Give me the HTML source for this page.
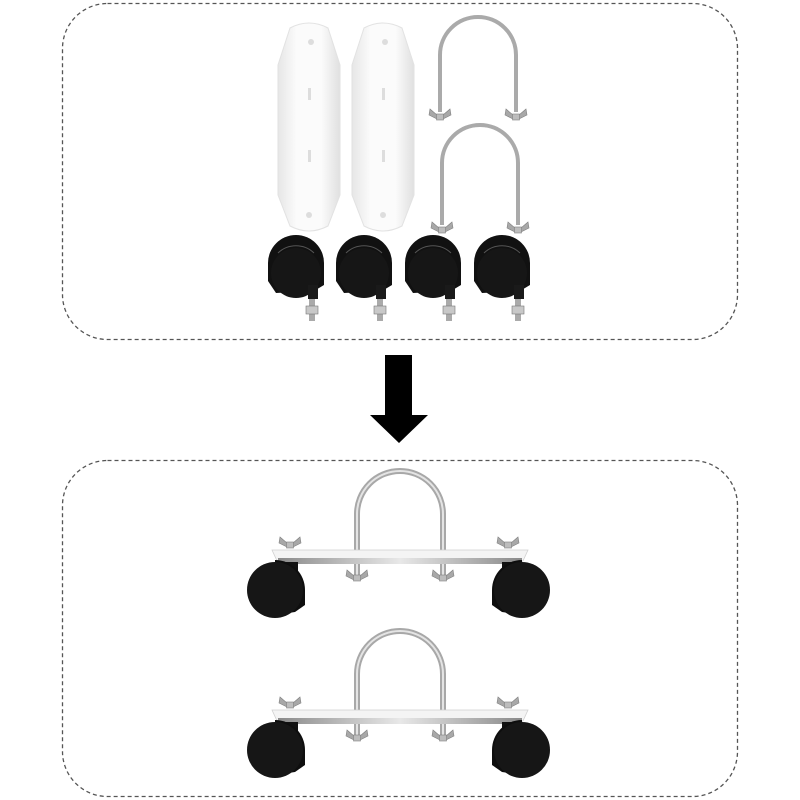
<!DOCTYPE html>
<html><head><meta charset="utf-8"><style>html,body{margin:0;padding:0;background:#fff}svg{display:block}</style></head>
<body>
<svg width="800" height="800" viewBox="0 0 800 800" xmlns="http://www.w3.org/2000/svg">
<defs>
<linearGradient id="met" x1="0" x2="1"><stop offset="0" stop-color="#8a8a8a"/><stop offset=".5" stop-color="#e8e8e8"/><stop offset="1" stop-color="#8a8a8a"/></linearGradient>
<linearGradient id="plate" x1="0" x2="1"><stop offset="0" stop-color="#e6e6e6"/><stop offset=".3" stop-color="#fbfbfb"/><stop offset=".7" stop-color="#fbfbfb"/><stop offset="1" stop-color="#e0e0e0"/></linearGradient>
<g id="wing">
<path d="M-3,-1 L-10,-7 L-11,-1 L-3,3Z M3,-1 L10,-7 L11,-1 L3,3Z" fill="#a8a8a8" stroke="#808080" stroke-width=".6"/>
<rect x="-3.5" y="-2" width="7" height="6" fill="#bdbdbd" stroke="#808080" stroke-width=".6"/>
</g>
<g id="caster">
<path d="M-28,-10 A28,28 0 0 1 28,-10 L28,12 L18,18 L-20,20 L-28,8Z" fill="#111"/>
<circle cx="0" cy="0" r="25" fill="#161616"/>
<path d="M-18,-20 A26,26 0 0 1 18,-20" stroke="#555" stroke-width="1" fill="none"/>
<rect x="12" y="12" width="10" height="14" fill="#1a1a1a"/>
<rect x="13" y="26" width="6" height="22" fill="#aaa"/>
<rect x="10" y="33" width="12" height="8" fill="#c8c8c8" stroke="#777" stroke-width=".6"/>
</g>
<g id="asm">
<path d="M357,580 L357,514 A43,43 0 0 1 443,514 L443,580" fill="none" stroke="#a8a8a8" stroke-width="6"/>
<path d="M357,580 L357,514 A43,43 0 0 1 443,514 L443,580" fill="none" stroke="#e4e4e4" stroke-width="2"/>
<use href="#wing" x="290" y="544"/><use href="#wing" x="508" y="544"/>
<path d="M272,550 L528,550 L522,563 L278,563Z" fill="#f4f4f4" stroke="#d0d0d0" stroke-width=".8"/>
<rect x="278" y="558" width="244" height="6" fill="url(#met)"/>
<use href="#wing" x="357" y="577"/><use href="#wing" x="443" y="577"/>
<rect x="286" y="562" width="12" height="18" fill="#111"/>
<rect x="502" y="562" width="12" height="18" fill="#111"/>
<path d="M275,560 A30,30 0 0 1 305,590 L305,605 L295,612 L275,615Z" fill="#0e0e0e"/>
<circle cx="275" cy="590" r="28" fill="#161616"/>
<path d="M522,560 A30,30 0 0 0 492,590 L492,605 L502,612 L522,615Z" fill="#0e0e0e"/>
<circle cx="522" cy="590" r="28" fill="#161616"/>
</g>
</defs>
<rect x="62.5" y="3.5" width="675" height="336" rx="45" fill="none" stroke="#555" stroke-width="1.3" stroke-dasharray="4,3"/>
<rect x="62.5" y="460.5" width="675" height="336" rx="45" fill="none" stroke="#555" stroke-width="1.3" stroke-dasharray="4,3"/>
<path d="M385,355 L412,355 L412,415 L428,415 L399,443 L370,415 L385,415Z" fill="#000"/>
<path d="M290,28 Q309,18 328,28 L340,65 L340,195 L328,226 Q309,236 290,226 L278,195 L278,65Z" fill="url(#plate)" stroke="#e2e2e2"/>
<path d="M364,28 Q383,18 402,28 L414,65 L414,195 L402,226 Q383,236 364,226 L352,195 L352,65Z" fill="url(#plate)" stroke="#e2e2e2"/>
<circle cx="311" cy="42" r="3" fill="#ddd"/><circle cx="385" cy="42" r="3" fill="#ddd"/>
<circle cx="309" cy="215" r="3" fill="#ddd"/><circle cx="383" cy="215" r="3" fill="#ddd"/>
<rect x="308" y="88" width="3" height="12" fill="#ddd"/><rect x="382" y="88" width="3" height="12" fill="#ddd"/>
<rect x="308" y="150" width="3" height="12" fill="#ddd"/><rect x="382" y="150" width="3" height="12" fill="#ddd"/>
<g fill="none" stroke="#aaa" stroke-width="4">
<path d="M440,112 L440,55 A38,38 0 0 1 516,55 L516,112"/>
<path d="M442,225 L442,163 A38,38 0 0 1 518,163 L518,225"/>
</g>
<use href="#wing" x="440" y="116"/><use href="#wing" x="516" y="116"/>
<use href="#wing" x="442" y="229"/><use href="#wing" x="518" y="229"/>
<use href="#caster" x="296" y="273"/><use href="#caster" x="364" y="273"/>
<use href="#caster" x="433" y="273"/><use href="#caster" x="502" y="273"/>
<use href="#asm"/>
<use href="#asm" y="160"/>
</svg>
</body></html>
